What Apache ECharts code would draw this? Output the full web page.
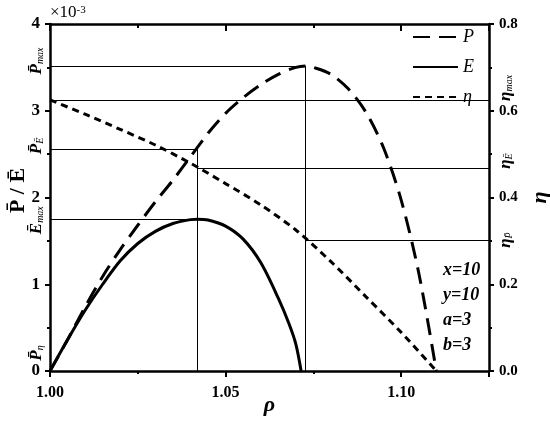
<!DOCTYPE html>
<html>
<head>
<meta charset="utf-8">
<script src="https://cdn.jsdelivr.net/npm/echarts@6/dist/echarts.min.js"></script>
<style>
html, body { margin: 0; padding: 0; background: #fff; }
#main { width: 550px; height: 421px; }
</style>
</head>
<body>
<div id="main"></div>
<script>
// P curve (left axis, x10^-3)
var pRho = [1.000, 1.005, 1.010, 1.015, 1.020, 1.025, 1.030, 1.035, 1.040, 1.045, 1.050, 1.055, 1.060, 1.065, 1.070, 1.073, 1.075, 1.080, 1.085, 1.090, 1.095, 1.100, 1.105, 1.110];
var pVal = [0, 0.36, 0.74, 1.09, 1.40, 1.68, 1.95, 2.20, 2.47, 2.74, 2.97, 3.15, 3.30, 3.42, 3.50, 3.516, 3.50, 3.42, 3.25, 2.98, 2.57, 1.97, 1.13, 0];
// E curve (left axis)
var eRho = [1.000, 1.005, 1.010, 1.015, 1.020, 1.025, 1.030, 1.035, 1.040, 1.042, 1.045, 1.050, 1.055, 1.060, 1.065, 1.068, 1.070, 1.0715];
var eVal = [0, 0.36, 0.70, 1.00, 1.27, 1.47, 1.61, 1.70, 1.745, 1.75, 1.74, 1.67, 1.52, 1.25, 0.84, 0.55, 0.31, 0];
// eta curve (right axis)
var etaRho = [1.000, 1.010, 1.020, 1.030, 1.040, 1.050, 1.060, 1.070, 1.080, 1.090, 1.100, 1.110];
var etaVal = [0.625, 0.592, 0.557, 0.521, 0.479, 0.432, 0.383, 0.325, 0.252, 0.171, 0.089, 0];

// reference levels
var rhoEmax = 1.0419, rhoPmax = 1.0727;
var Pmax = 3.516, P_E = 2.56, Emax = 1.75, P_eta = 0;
var etaMax = 0.625, eta_E = 0.468, eta_P = 0.302;
var params = ['x=10', 'y=10', 'a=3', 'b=3'];

var serif = 'Liberation Serif';

function pairs(xs, ys) {
    var res = [];
    for (var i = 0; i < xs.length; i++) res.push([xs[i], ys[i]]);
    return res;
}
function seg(x1, y1, x2, y2) {
    return [{ coord: [x1, y1] }, { coord: [x2, y2] }];
}
function refLines(list) {
    return {
        silent: true,
        symbol: ['none', 'none'],
        label: { show: false },
        lineStyle: { color: '#000', width: 1, type: 'solid' },
        emphasis: { disabled: true },
        data: list
    };
}

var axisLine = { show: true, onZero: false, lineStyle: { color: '#000', width: 2.5 } };
var tickLabel = { color: '#000', fontFamily: serif, fontWeight: 'bold' };

var myChart = echarts.init(document.getElementById('main'));
var option = {
    animation: false,
    grid: { left: 50, right: 61, top: 24, bottom: 50, containLabel: false, outerBoundsMode: 'none' },
    legend: {
        data: ['P', 'E', 'η'],
        orient: 'vertical',
        left: 407,
        top: 23,
        itemWidth: 45,
        itemHeight: 14,
        itemGap: 12,
        itemStyle: { opacity: 0 },
        textStyle: { fontFamily: serif, fontStyle: 'italic', fontSize: 18, color: '#000' }
    },
    xAxis: [{
        type: 'value', position: 'bottom', min: 1, max: 1.125, interval: 0.05,
        axisLine: axisLine,
        axisTick: { show: true, length: 6, lineStyle: { color: '#000', width: 2 } },
        minorTick: { show: true, splitNumber: 2, length: 3, lineStyle: { color: '#000', width: 2 } },
        splitLine: { show: false },
        axisLabel: Object.assign({ fontSize: 16, margin: 14, showMaxLabel: false,
            formatter: function (v) { return v.toFixed(2); } }, tickLabel)
    }, {
        type: 'value', position: 'top', min: 1, max: 1.125, interval: 0.05,
        axisLine: axisLine,
        axisTick: { show: true, inside: true, length: 7, lineStyle: { color: '#000', width: 2 } },
        minorTick: { show: true, splitNumber: 2, length: 4, lineStyle: { color: '#000', width: 2 } },
        splitLine: { show: false },
        axisLabel: { show: false }
    }],
    yAxis: [{
        type: 'value', position: 'left', min: 0, max: 4, interval: 1,
        axisLine: axisLine,
        axisTick: { show: true, length: 5, lineStyle: { color: '#000', width: 2 } },
        minorTick: { show: true, splitNumber: 2, length: 3, lineStyle: { color: '#000', width: 2 } },
        splitLine: { show: false },
        axisLabel: Object.assign({ fontSize: 17, margin: 10 }, tickLabel)
    }, {
        type: 'value', position: 'right', min: 0, max: 0.8, interval: 0.2,
        axisLine: axisLine,
        axisTick: { show: true, length: 5, lineStyle: { color: '#000', width: 2 } },
        minorTick: { show: true, splitNumber: 2, length: 3, lineStyle: { color: '#000', width: 2 } },
        splitLine: { show: false },
        axisLabel: Object.assign({ fontSize: 15, margin: 10,
            formatter: function (v) { return v.toFixed(1); } }, tickLabel)
    }],
    series: [{
        name: 'P', type: 'line', xAxisIndex: 0, yAxisIndex: 0,
        data: pairs(pRho, pVal), symbol: 'none', smooth: 0.3,
        lineStyle: { color: '#000', width: 3, type: [17, 9] },
        itemStyle: { color: '#000' },
        markLine: refLines([
            seg(1, Pmax, rhoPmax, Pmax),
            seg(rhoPmax, 0, rhoPmax, Pmax),
            seg(1, P_E, rhoEmax, P_E),
            seg(rhoEmax, 0, rhoEmax, P_E),
            seg(1, Emax, rhoEmax, Emax)
        ])
    }, {
        name: 'E', type: 'line', xAxisIndex: 0, yAxisIndex: 0,
        data: pairs(eRho, eVal), symbol: 'none', smooth: 0.3,
        lineStyle: { color: '#000', width: 3, type: 'solid' },
        itemStyle: { color: '#000' }
    }, {
        name: 'η', type: 'line', xAxisIndex: 0, yAxisIndex: 1,
        data: pairs(etaRho, etaVal), symbol: 'none', smooth: 0.3,
        lineStyle: { color: '#000', width: 3, type: [7, 5] },
        itemStyle: { color: '#000' },
        markLine: refLines([
            seg(1, etaMax, 1.125, etaMax),
            seg(rhoEmax, eta_E, 1.125, eta_E),
            seg(rhoPmax, eta_P, 1.125, eta_P)
        ])
    }]
};
myChart.setOption(option);

// annotation labels, placed from the axes
function ptL(x, y) { return myChart.convertToPixel({ xAxisIndex: 0, yAxisIndex: 0 }, [x, y]); }
function ptR(x, y) { return myChart.convertToPixel({ xAxisIndex: 0, yAxisIndex: 1 }, [x, y]); }

var richLbl = {
    m: { fontFamily: serif, fontStyle: 'italic', fontWeight: 'bold', fontSize: 17, fill: '#000' },
    s: { fontFamily: serif, fontStyle: 'italic', fontSize: 10, fill: '#000', verticalAlign: 'bottom' }
};
function vlabel(px, py, main, sub) {
    return {
        type: 'text', x: px, y: py, rotation: Math.PI / 2, silent: true,
        style: {
            text: '{m|' + main + '}{s|' + sub + '}',
            textAlign: 'center', textVerticalAlign: 'middle',
            rich: richLbl
        }
    };
}
function plainText(px, py, txt, font, rot) {
    return {
        type: 'text', x: px, y: py, rotation: rot || 0, silent: true,
        style: { text: txt, textAlign: 'center', textVerticalAlign: 'middle', font: font, fill: '#000' }
    };
}

var g = [];
var a, b;
a = ptL(1, Pmax);  g.push(vlabel(a[0] - 13, a[1] - 5, 'P\u0304', 'max'));
a = ptL(1, P_E);   g.push(vlabel(a[0] - 13, a[1] - 3, 'P\u0304', 'E\u0304'));
a = ptL(1, Emax);  g.push(vlabel(a[0] - 13, a[1] + 1, 'E\u0304', 'max'));
a = ptL(1, P_eta); g.push(vlabel(a[0] - 13, a[1] - 18, 'P\u0304', 'η'));
a = ptR(1.125, etaMax); g.push(vlabel(a[0] + 17, a[1] - 12, 'η', 'max'));
a = ptR(1.125, eta_E);  g.push(vlabel(a[0] + 17, a[1] - 7, 'η', 'E\u0304'));
a = ptR(1.125, eta_P);  g.push(vlabel(a[0] + 17, a[1], 'η', 'P\u0304'));

// axis names
a = ptL(1, 0); b = ptL(1.125, 4);
g.push(plainText((a[0] + b[0]) / 2, a[1] + 34, 'ρ', 'italic bold 22px "Liberation Serif"'));
g.push(plainText(a[0] - 32, (a[1] + b[1]) / 2 - 7, 'P\u0304 / E\u0304', 'bold 22px "Liberation Serif"', Math.PI / 2));
g.push(plainText(b[0] + 51, (a[1] + b[1]) / 2, 'η', 'italic bold 22px "Liberation Serif"', Math.PI / 2));

// x10^-3 multiplier
a = ptL(1, 4);
g.push({
    type: 'text', x: a[0], y: a[1] - 11, silent: true,
    style: {
        text: '{b|×10}{p|-3}', textAlign: 'left', textVerticalAlign: 'middle',
        rich: {
            b: { fontFamily: serif, fontSize: 17, fill: '#000' },
            p: { fontFamily: serif, fontSize: 11, fill: '#000', verticalAlign: 'top' }
        }
    }
});

// parameter notes
for (var i = 0; i < params.length; i++) {
    g.push({
        type: 'text', x: 443, y: 270 + i * 25, silent: true,
        style: {
            text: params[i], textAlign: 'left', textVerticalAlign: 'middle',
            font: 'italic bold 18px "Liberation Serif"', fill: '#000'
        }
    });
}
myChart.setOption({ graphic: g });
</script>
</body>
</html>
